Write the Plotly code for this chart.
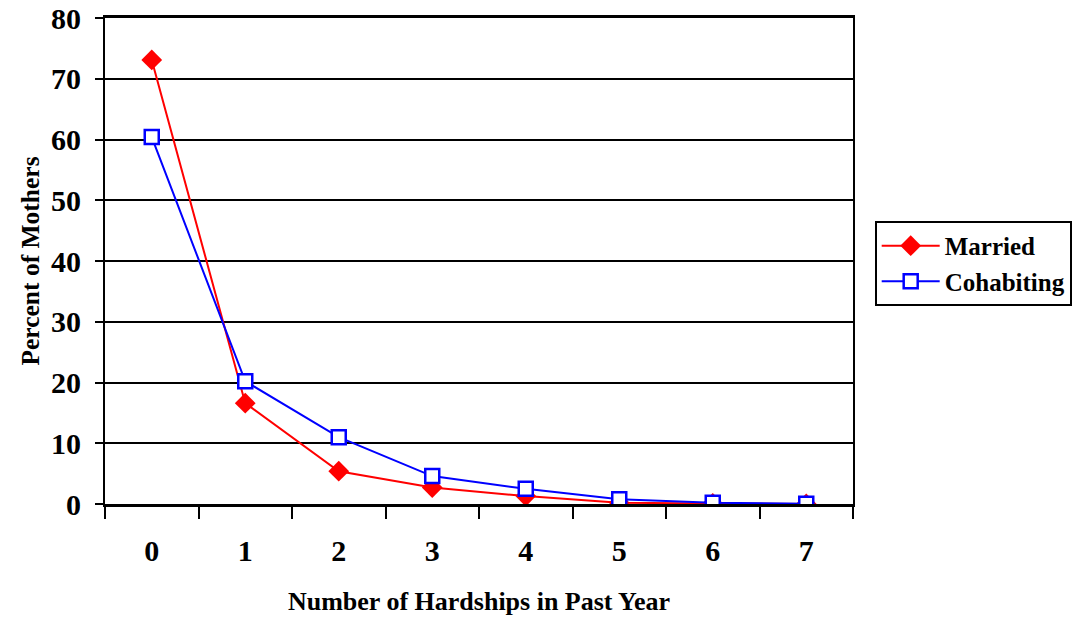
import plotly.graph_objects as go

categories = ["0", "1", "2", "3", "4", "5", "6", "7"]
married = [73.1, 16.6, 5.4, 2.7, 1.3, 0.2, 0.1, 0.0]
cohabiting = [60.4, 20.2, 11.0, 4.6, 2.5, 0.8, 0.2, 0.05]
y_ticks = [0, 10, 20, 30, 40, 50, 60, 70, 80]

FONT = "Liberation Serif"

fig = go.Figure()
fig.add_trace(go.Scatter(
    x=categories, y=married, name="Married", mode="lines+markers",
    line=dict(color="#ff0000", width=2),
    marker=dict(symbol="diamond", size=16, color="#ff0000"),
))
fig.add_trace(go.Scatter(
    x=categories, y=cohabiting, name="Cohabiting", mode="lines+markers",
    line=dict(color="#0000ff", width=2),
    marker=dict(symbol="square", size=14, color="white", line=dict(color="#0000ff", width=2.5)),
))

fig.update_layout(
    width=1075, height=621,
    margin=dict(l=105, r=222, t=18, b=117, autoexpand=False),
    paper_bgcolor="white", plot_bgcolor="white",
    font=dict(family=FONT, color="black"),
    legend=dict(
        x=1.029, y=0.495, xanchor="left", yanchor="middle",
        bordercolor="black", borderwidth=2,
        font=dict(family=FONT, size=25, color="black", weight="bold"),
        tracegroupgap=0, itemwidth=58,
    ),
    xaxis=dict(
        type="category", range=[-0.5, 7.5], automargin=False,
        showgrid=False, showline=True, linecolor="black", linewidth=3,
        mirror=True,
        ticks="outside", tickson="boundaries", ticklen=12, tickwidth=2, tickcolor="black",
        tickfont=dict(family=FONT, size=30, color="black", weight="bold"),
        ticklabelstandoff=18,
        title=dict(text="Number of Hardships in Past Year",
                   font=dict(family=FONT, size=26, color="black", weight="bold"), standoff=26),
    ),
    yaxis=dict(
        range=[0, 80], tickvals=y_ticks, automargin=False,
        showgrid=True, gridcolor="black", gridwidth=2,
        showline=True, linecolor="black", linewidth=2, mirror=True,
        zeroline=False,
        ticks="outside", ticklen=8, tickwidth=2, tickcolor="black",
        tickfont=dict(family=FONT, size=30, color="black", weight="bold"),
        ticklabelstandoff=8,
        title=dict(text="Percent of Mothers",
                   font=dict(family=FONT, size=25.5, color="black", weight="bold"), standoff=4),
    ),
)

fig.write_html("out.html")
